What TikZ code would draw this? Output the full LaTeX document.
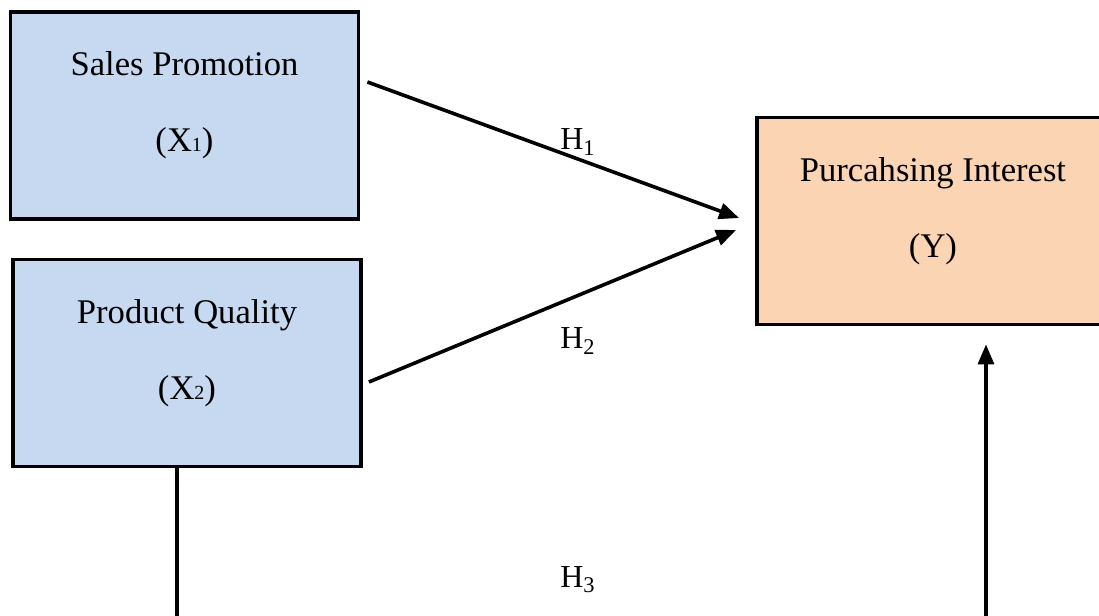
\documentclass[tikz,border=0pt]{standalone}
\usepackage{fontspec}
\setmainfont{Liberation Serif}
\usetikzlibrary{arrows.meta, positioning}
\definecolor{boxblue}{HTML}{C6D9F1}
\definecolor{boxorange}{HTML}{FBD4B4}
\newcommand{\subx}[1]{{\fontsize{10}{10}\selectfont #1}}
\tikzset{
    varbox/.style={draw, line width=1.9pt, minimum width=174pt, minimum height=103.5pt, inner sep=0pt}, % the variable boxes
    indep/.style={varbox, fill=boxblue},
    dep/.style={varbox, fill=boxorange},
    boxtext/.style={align=center, font=\fontsize{17.3}{38}\selectfont},
    hypo/.style={font=\fontsize{16}{18}\selectfont}, % hypothesis labels
}
\tikzstyle{arrow} = [line width=1.8pt, ->, >={Triangle[length=10pt,width=8pt]}]

\begin{document}
\begin{tikzpicture}[x=0.5pt, y=-0.5pt]
        \useasboundingbox (0,0) rectangle (1099,616);
        \clip (0,0) rectangle (1099,616);
        % Variabili
        \node[indep, label={[boxtext, yshift=5pt]center:Sales Promotion\\(X\subx{1})}] (promo) at (184.5,115.5) {};
        \node[indep, label={[boxtext, yshift=5pt]center:Product Quality\\(X\subx{2})}] (quality) at (187,363) {};
        \node[dep, minimum width=176pt, label={[boxtext, yshift=5pt]center:Purcahsing Interest\\(Y)}] (interest) at (933,221) {};

        % Ipotesi
        \draw[arrow] ([xshift=3.5pt, yshift=16.75pt]promo.east) -- ([xshift=-8pt, yshift=1.5pt]interest.west);
        \draw[arrow] ([xshift=3pt, yshift=-9.5pt]quality.east) -- ([xshift=-9.5pt, yshift=-4.5pt]interest.west);
        \draw[arrow, line width=1.6pt] ([xshift=-5pt]quality.south) -- ++(0,160) -| ([xshift=26.5pt, yshift=-9pt]interest.south);

        \node[hypo] (h1) at (578,142) {H\textsubscript{1}};
        \node[hypo] (h2) at (578,341) {H\textsubscript{2}};
        \node[hypo] (h3) at (578,580) {H\textsubscript{3}};
        \end{tikzpicture}
\end{document}
